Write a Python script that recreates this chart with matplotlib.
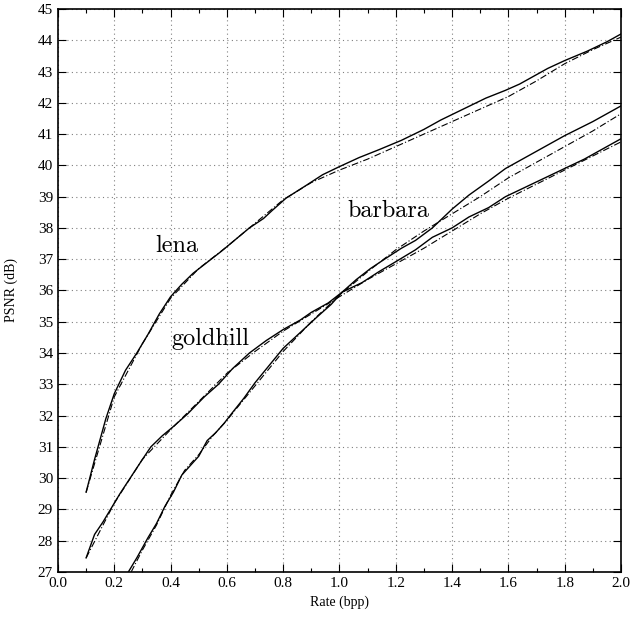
import matplotlib
matplotlib.use("Agg")
import matplotlib.pyplot as plt
import matplotlib.ticker as tick

# rate (bpp) / PSNR (dB)
lena_x = [0.10, 0.13, 0.17, 0.20, 0.24, 0.28, 0.32, 0.36, 0.40, 0.44, 0.48, 0.53, 0.58, 0.64, 0.68, 0.73, 0.76, 0.81,
          0.88, 0.94, 1.00, 1.07, 1.14, 1.22, 1.30, 1.36, 1.44, 1.52, 1.59, 1.64, 1.69, 1.74, 1.80, 1.88, 1.95, 2.00]
lena_y = [29.55, 30.6, 31.9, 32.7, 33.45, 34.0, 34.6, 35.25, 35.8, 36.2, 36.55, 36.9, 37.25, 37.7, 38.0, 38.3, 38.55, 38.95,
          39.35, 39.7, 39.96, 40.25, 40.5, 40.8, 41.15, 41.45, 41.8, 42.15, 42.4, 42.6, 42.85, 43.1, 43.35, 43.65, 43.95, 44.2]
lena_dx = [0.10, 0.20, 0.30, 0.40, 0.50, 0.60, 0.70, 0.80, 0.90, 1.00, 1.10, 1.20, 1.30, 1.40, 1.50, 1.60, 1.70, 1.80, 1.90, 2.00]
lena_dy = [29.55, 32.6, 34.3, 35.75, 36.7, 37.4, 38.15, 38.9, 39.45, 39.85, 40.2, 40.6, 41.0, 41.4, 41.8, 42.2, 42.7, 43.25, 43.7, 44.1]

gold_x = [0.10, 0.13, 0.16, 0.19, 0.22, 0.26, 0.30, 0.33, 0.37, 0.41, 0.46, 0.52, 0.57, 0.62, 0.68, 0.74, 0.80, 0.86,
          0.90, 0.96, 1.01, 1.08, 1.14, 1.20, 1.27, 1.33, 1.40, 1.46, 1.53, 1.59, 1.66, 1.73, 1.80, 1.87, 1.94, 2.00]
gold_y = [27.45, 28.2, 28.6, 29.05, 29.5, 30.05, 30.6, 31.0, 31.35, 31.65, 32.05, 32.6, 33.0, 33.5, 34.0, 34.4, 34.75, 35.05,
          35.3, 35.6, 35.95, 36.25, 36.6, 36.92, 37.3, 37.7, 38.0, 38.35, 38.65, 39.0, 39.3, 39.6, 39.9, 40.2, 40.55, 40.85]
gold_dx = [0.10, 0.20, 0.30, 0.40, 0.50, 0.60, 0.70, 0.80, 0.90, 1.00, 1.10, 1.20, 1.30, 1.40, 1.50, 1.60, 1.70, 1.80, 1.90, 2.00]
gold_dy = [27.45, 29.2, 30.6, 31.55, 32.45, 33.35, 34.05, 34.7, 35.25, 35.8, 36.35, 36.85, 37.35, 37.9, 38.45, 38.95, 39.4, 39.85, 40.3, 40.75]

barb_x = [0.25, 0.28, 0.32, 0.35, 0.38, 0.41, 0.44, 0.47, 0.50, 0.53, 0.56, 0.59, 0.62, 0.66, 0.70, 0.75, 0.80,
          0.86, 0.92, 0.97, 1.01, 1.06, 1.11, 1.16, 1.22, 1.27, 1.33, 1.40, 1.46, 1.53, 1.59, 1.64, 1.71, 1.80, 1.90, 2.00]
barb_y = [27.0, 27.45, 28.1, 28.55, 29.1, 29.55, 30.1, 30.4, 30.7, 31.2, 31.45, 31.75, 32.1, 32.55, 33.05, 33.6, 34.15,
          34.65, 35.15, 35.55, 35.95, 36.35, 36.7, 37.0, 37.35, 37.6, 38.0, 38.6, 39.05, 39.5, 39.9, 40.15, 40.5, 40.95, 41.4, 41.9]
barb_dx = [0.26, 0.30, 0.35, 0.40, 0.45, 0.50, 0.55, 0.60, 0.65, 0.70, 0.80, 0.90, 1.00, 1.10, 1.20, 1.30, 1.40, 1.50, 1.60, 1.70, 1.80, 1.90, 2.00]
barb_dy = [27.0, 27.7, 28.5, 29.45, 30.25, 30.75, 31.35, 31.85, 32.4, 32.95, 34.05, 35.0, 35.85, 36.6, 37.3, 37.9, 38.45, 39.0, 39.6, 40.1, 40.6, 41.1, 41.65]

labels = ["lena", "goldhill", "barbara"]
label_pos = [(0.4235, 37.24), (0.543, 34.27), (1.175, 38.36)]

x_ticks = [0.0, 0.2, 0.4, 0.6, 0.8, 1.0, 1.2, 1.4, 1.6, 1.8, 2.0]
y_ticks = list(range(27, 46))

plt.rcParams['font.family'] = ['Liberation Serif', 'DejaVu Serif']

fig = plt.figure(figsize=(6.33, 6.19), dpi=100)
ax = fig.add_axes([0.0916, 0.076, 0.8894, 0.9095])

for xs, ys, dxs, dys in [(lena_x, lena_y, lena_dx, lena_dy),
                         (gold_x, gold_y, gold_dx, gold_dy),
                         (barb_x, barb_y, barb_dx, barb_dy)]:
    ax.plot(dxs, dys, color='black', lw=0.8, linestyle=(0, (6, 2, 1, 2)))
    ax.plot(xs, ys, color='black', lw=1.0)

for name, (lx, ly) in zip(labels, label_pos):
    ax.text(lx, ly, name, family='cmr10', fontsize=17.5, ha='center', va='baseline')

ax.set_xlim(0, 2)
ax.set_ylim(27, 45)
ax.set_xticks(x_ticks)
ax.set_yticks(y_ticks)
ax.xaxis.set_major_formatter(tick.FormatStrFormatter('%.1f'))
ax.xaxis.set_minor_locator(tick.MultipleLocator(0.1))
ax.tick_params(which='both', direction='in', top=True, right=True, labelsize=11)
ax.tick_params(which='major', length=6, width=0.8)
ax.tick_params(which='minor', length=3, width=0.8)
ax.grid(True, which='major', color='gray', linestyle=(0, (1, 3)), linewidth=0.8)
for s in ax.spines.values():
    s.set_linewidth(1.2)

ax.set_xlabel('Rate (bpp)', fontsize=10, labelpad=4)
ax.set_ylabel('PSNR (dB)', fontsize=10, labelpad=14)

plt.savefig('out.png', dpi=100)
